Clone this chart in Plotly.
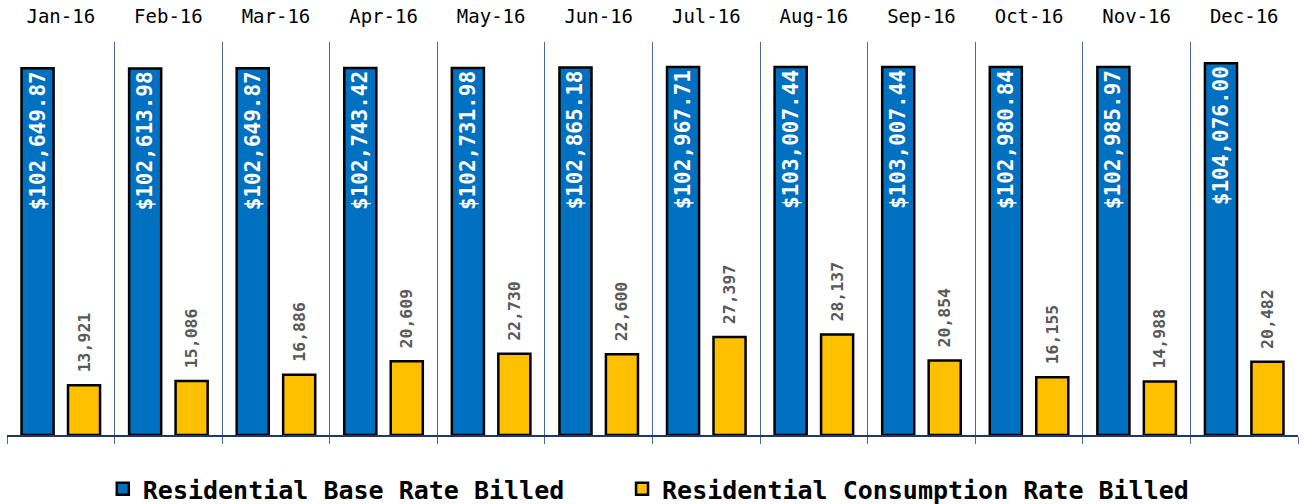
import plotly.graph_objects as go

months = ["Jan-16", "Feb-16", "Mar-16", "Apr-16", "May-16", "Jun-16",
          "Jul-16", "Aug-16", "Sep-16", "Oct-16", "Nov-16", "Dec-16"]
base_rate = [102649.87, 102613.98, 102649.87, 102743.42, 102731.98, 102865.18,
             102967.71, 103007.44, 103007.44, 102980.84, 102985.97, 104076.00]
consumption = [13921, 15086, 16886, 20609, 22730, 22600,
               27397, 28137, 20854, 16155, 14988, 20482]

mono = "DejaVu Sans Mono"
legend_font = dict(family=mono, size=25, color="#000000", weight="bold")

fig = go.Figure()
fig.add_trace(go.Bar(
    x=months, y=base_rate, name="Residential Base Rate Billed", legend="legend",
    marker=dict(color="#0070C0", line=dict(color="#000000", width=2.5)),
    text=["${:,.2f}".format(v) for v in base_rate],
    textposition="inside", insidetextanchor="end", textangle=-90,
    constraintext="none",
    insidetextfont=dict(family=mono, size=21, color="white", weight="bold"),
))
fig.add_trace(go.Bar(
    x=months, y=consumption, name="Residential Consumption Rate Billed",
    legend="legend2",
    marker=dict(color="#FFC000", line=dict(color="#000000", width=2.5)),
    text=["\u00a0{:,}".format(v) for v in consumption],
    textposition="outside", textangle=-90, constraintext="none",
    outsidetextfont=dict(family=mono, size=16.5, color="#595959", weight="bold"),
    cliponaxis=False,
))
# invisible trace carrying the top category labels
fig.add_trace(go.Scatter(
    x=months, y=[0] * len(months), xaxis="x2", mode="markers",
    marker=dict(opacity=0), showlegend=False, hoverinfo="skip",
))

fig.update_layout(
    width=1302, height=504,
    margin=dict(l=7, r=4, t=42, b=69, autoexpand=False),
    paper_bgcolor="white", plot_bgcolor="white",
    barmode="group", bargap=0.136, bargroupgap=0.31,
    showlegend=True,
    legend=dict(orientation="h", x=0.0742, xanchor="left", y=-0.079, yanchor="top",
                font=legend_font, itemwidth=30, bgcolor="rgba(0,0,0,0)"),
    legend2=dict(orientation="h", x=0.4764, xanchor="left", y=-0.079, yanchor="top",
                 font=legend_font, itemwidth=30, bgcolor="rgba(0,0,0,0)"),
    xaxis=dict(type="category", categoryorder="array", categoryarray=months,
               tickson="boundaries", showgrid=True, gridcolor="#4A66A0", gridwidth=1,
               showline=True, linecolor="#1F3864", linewidth=1.5,
               ticks="outside", ticklen=7, tickcolor="#4A66A0",
               showticklabels=False, range=[-0.5, 11.5], fixedrange=True,
               automargin=False),
    xaxis2=dict(type="category", categoryorder="array", categoryarray=months,
                overlaying="x", side="top", matches="x", showgrid=False,
                showline=False, ticks="", showticklabels=True, automargin=False,
                ticklabelstandoff=14,
                tickfont=dict(family=mono, size=19, color="#000000")),
    yaxis=dict(range=[0, 110000], showgrid=False, zeroline=False,
               showticklabels=False, showline=False, fixedrange=True,
               automargin=False),
)

fig.write_html("out.html", config={"displayModeBar": False},
               post_script="document.body.style.margin='0';")
